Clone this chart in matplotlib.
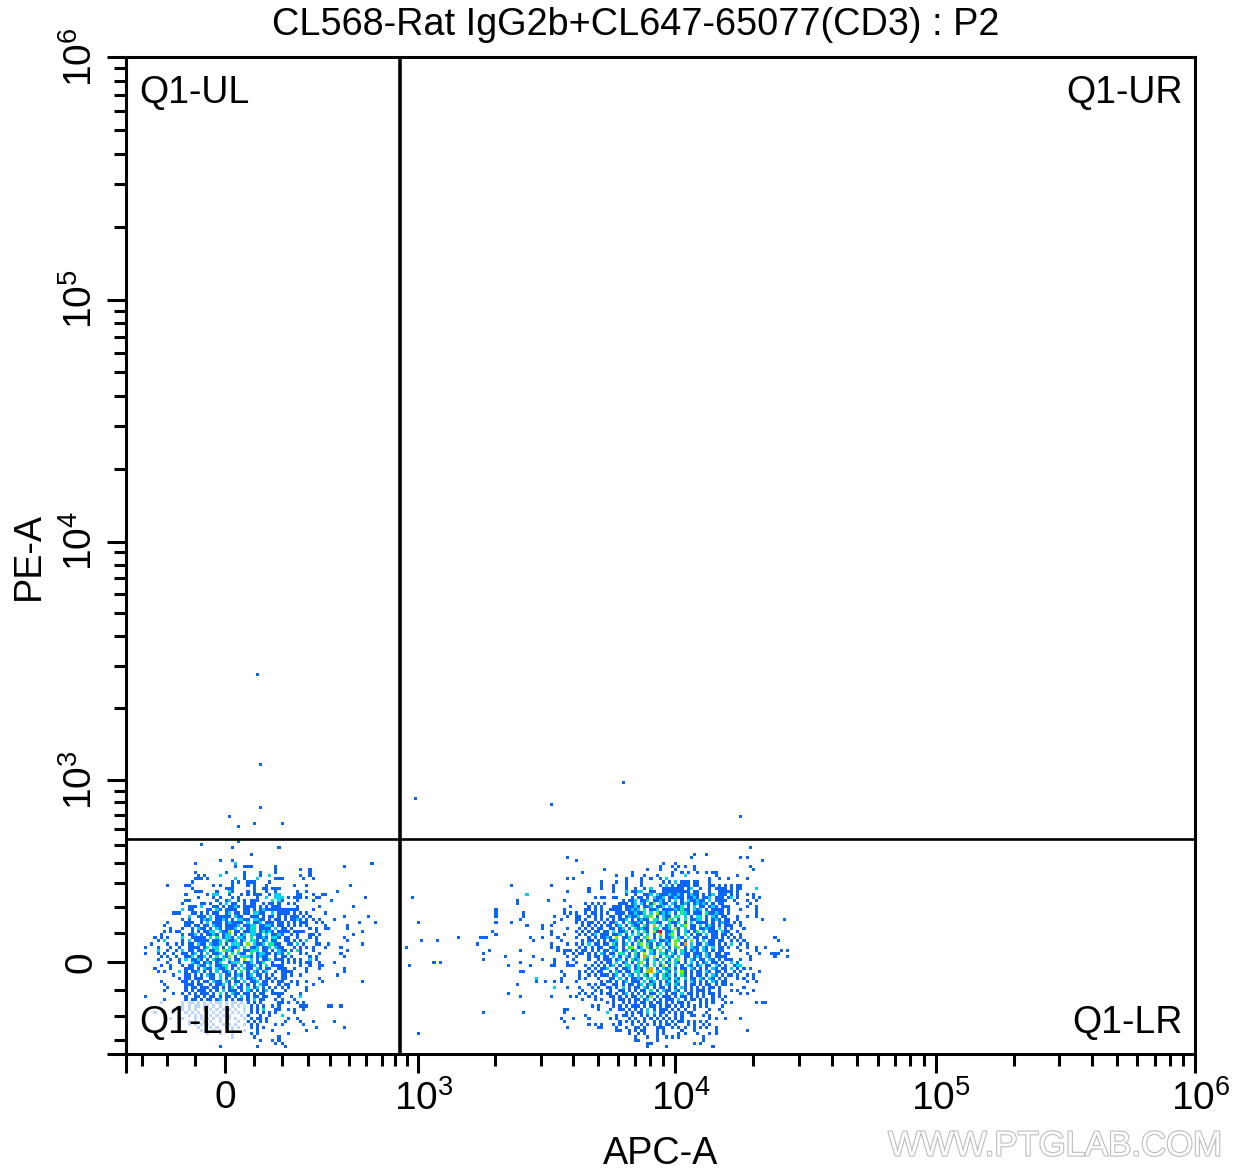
import matplotlib
matplotlib.use("Agg")
import matplotlib.pyplot as plt
import matplotlib.patheffects as pe
from matplotlib.colors import ListedColormap, BoundaryNorm
from matplotlib.transforms import ScaledTranslation
import numpy as np

plt.rcParams['font.family'] = ['Liberation Sans', 'DejaVu Sans']
plt.rcParams['mathtext.fontset'] = 'custom'
plt.rcParams['mathtext.rm'] = 'Liberation Sans'

W, H = 1243, 1171
L, R, T, B = 125.5, 1195.0, 57.0, 1054.0
CELL = 3.1  # one plot channel is about 3.1 px in the picture

title = "CL568-Rat IgG2b+CL647-65077(CD3) : P2"
xlabel = "APC-A"
ylabel = "PE-A"
quad_labels = ["Q1-UL", "Q1-UR", "Q1-LL", "Q1-LR"]

# density, one string per channel row (top to bottom)
# . empty, 1 blue, 2 cyan, 3 teal green, 4 green/yellow, 5 orange, 6 red
# spaces only group the columns in tens
ll_rows = [
    ".......... .......... .......... 1",
    ".......... ........1.",
    ".......... .......... ........1. .......... ...1",
    "",
    ".......... .......... .......... ....1",
    "",
    ".......... .......... ....1...1.",
    ".......... ......1... .........2 .......... .......... .......... .......... ...1",
    ".......... .......... .........1 ..111..... ..1....... .......... ....1",
    ".......... .......... .......... .......... ..1....... 1..1",
    ".......... ......1... ......1... ..1....1.. ..1....... ...1",
    ".......... .......1.1 ....2..... ..1....1.. 2......... 1..1",
    ".......... ......111. 1........2 ..1...2... ..111..... .1..1",
    ".......... .....1.... ........1. 1..111.... 1.........",
    ".......1.. ...11..... ..1.1...1. ...1.1...1 ........1. ..1....... ......1",
    ".......... .....1.... ......111. .....1..11 .111",
    ".......... ......111. ...1...31. ...1.1...1 ..1......1 ..1....... ..1",
    ".......... ...1...... 1.22...1.. .1.1.111.. 1.22.....1 1...1..11.",
    ".......... .......1.. ..1.1...1. 1.....1..2 ..222.1.11 1.1..11... .......... .1",
    ".......... ...11..... ...1..12.. 1.1.111... .3.21....1 ....1..... 1",
    ".......... ..1.....11 .1..1.2.11 ..1.11..1. 11.1..1.1.",
    ".......... ....111.2. ..11.1.112 1.1111.1.1 .111.....1 ......1... .......1",
    ".......... ..2.11.... 11.21.1111 ..11.1.121 1111111111 ....1",
    ".........1 11...11.1. 1.11..12.1 1.11.2211. .2.1111.1. 1.1.....1",
    ".......... ....2..111 .2.11111.2 11..111.1. 11.1.1.111 .1.1...... ....1..... ..1",
    ".......... ..1.1...12 12.1121.1. 2211.2211. 1.11.1.112 1.1.1.1... .1",
    ".......1.. ...111..1. 2.111.1211 11.2.112.1 11.11.1.1. 111..1.1.. .........1 ....1",
    "......1... ...11.11.1 1.211.1111 2.1122.112 21.11.1.1. 1.1.....1. .....1",
    "........1. ..1..1.211 .1.21.1112 .2.132.111 1.2.11.1.. ...1.1..11 .....1....",
    "......1.1. 11...1.1.1 122.2114.1 1.1122.131 21.1111.11 11...1.... .......... 1",
    ".....1.... ..1.112.1. 1121.122.1 .13.2211.2 .1121..1.1 ...11.1... .......1",
    "...1.1.1.. ..2..11111 .2.3.1221. 221.3.1121 .221.11..1 ...1.1.... ....1",
    "....1.2... ..1.2.1111 1.112.3112 .12.231.12 .11..11.1. 1.2..1.... .....1",
    "..1....1.. 1.1.11.211 .2113.1.22 31.4.2112. 3311..11.2 .1...11..1 ..........1",
    "1...1...1. .1..1111.1 3.22.1.211 2.3.112.11 2.211...1. 1.1.1...1. ...1",
    "....2..1.. 1.2.11.112 .113.4221. 4.11232.11 .1.211.1.3 1...1..... .....1",
    "1...1.1..1 ..11.12.1. 2.112.1.3. 211.3.1221 1.121.3... 1.1...1... ...1",
    ".....1.1.. 1..113.112 .1.3.214.1 .3221.1211 ..1.11.1.. ...1.1.... ....1",
    "....1...1. .1.2.1121. 1.2113.2.1 1.4.2.1.11 3.111.1.1. 1..2.1.... ...",
    ".......1.. .1...211.1 21.13..122 3.112.113. .1..1.1.1. 1.11..1... .1",
    ".....1..1. ..1.11.211 .2.1123.11 .2.112.1.2 .1111..... 1..1..11.. ..",
    "...1....1. ...111.1.2 11.2113.1. 2.311.21.1 1..111..1. ..1...1... ....1",
    "....1.1... .2.1.112.1 .1.2.112.1 .3.1.21.12 ..1.1111.. ..1....... ....1",
    ".........1 ...11.1.1. 211.2.11.1 21.12.11.1 .1..11.1.. 1......... ..1",
    ".......... .1.11.111. .11.2.1.31 .2.112.1.1 1.1.11.... ......1...",
    ".....1.... ..11.1.1.1 1.211.21.1 1.2.112.11 .1.11..1.1 ..1....1.. ..........1",
    "......1... ...111.11. .1.112.1.2 .1.1.1.211 ...1.11..1 ....1.....",
    ".......1.. ...1.11.11 1.11.1.12. 11.2.12.1. 1.1.1.1... ..1.......",
    "......1... ...1.1.111 .1.1.2.111 .1.21.1.12 .1...1.... ..1",
    ".........1 ..1.1.1.11 1.1.3.1.21 1.11.1.11. .1111..... 1",
    "1......... ...1..11.1 .11.1.11.1 .2.1.11.11 ...1...1.. 2",
    "......1... ...1.11.1. 11.12.1.1. 11.1.2.11. ..1.1...1.",
    ".....1.... ..1.11.1.1 .1.11.1.11 .1.1.1.1.. ...11.1..1 .1",
    ".......... ..1.1.11.1 1.1.1.1.1. 1.2.1.1.1. .1.1...... 111......1 1..1",
    ".........1 ..1.1.1..1 .1.1.1.1.1 ..1.1.1.2. ..11..1.1. .1",
    "...1.....1 ...1.1.1.. 1.1.1.1.1. 1.2.1.1.1. 1.1.....1.",
    "......1... .1..1.1.1. .1.1.1.1.. .1.1...1.. 1...2.....",
    "........1. ..1...1.1. 1.1.1..1.1 ..1.1.11.1 ......1..1 ...",
    ".......... ....1.1..1 .1..1.1... 1..1.1.1.1 .....1.... 1...1..... .1",
    ".......... .1..1.1.1. 1.1..1.1.1 ..1.1.1... ..1.1..... .1",
    ".......... .......1.. .1.1..1.1. 1...1.1.1. .......... .....1.... ....1..",
    ".......... ........1. ..1.1...1. ..1...1... .1........ ..1",
    ".......... .......... 1...1...1. ....1.1... ......1...",
    ".......... .......... ........1. .....1.... ...1",
    ".......... .......... .......... .......1.. .1.1......",
    ".......... .......... .......... .......... ..1.1",
    ".......... .......... ....1..... ......1... .....1",
]

lr_rows = [
    ".......... .......... .......... .......... .......... .......... .......... .......... ......1",
    "",
    ".......... .......... .......... .......... .......... .......... ........1. ..1",
    ".......... .......... .......1.. .......... .......... .......... .......1.. .......... ...1.1",
    ".......... .......... .......... 1......... .......... .......... .......... .......... .......... 1",
    ".......... .......... .......... .......... .......... ........1. ..1",
    ".......... .......... .......... .......... .......... .......1.. .1.1.1..1. .......... ......1",
    ".......... .......... .......... .........1 .......... ...1...1.. ..1.....1. .......... .......1",
    ".......... .......... .......... ..1....... ........1. .......... .1..1.1..1 ..1.11.... ..",
    ".......... .......... .......... .......... ...1....1. ..1...1... .1...2.... .....1.... ..1",
    ".......... .......... .......1.1 .......... ......1... .1..1..1.2 .......... ...1..1..1 .....1",
    ".......... .......... .......... ........1. ...1..1... .1......1. 1.2.111.11 ...1...... ",
    ".........1 .......... ..1....... ........1. ..1...1... .1.....1.2 .1.1111.11 ...11.1.1. 1.11",
    ".......... .......... .......... ....1...1. ..1...1..1 ..1.2...11 11111.12.. 1..1.1111. 1.11....2",
    ".......... .......... .......1.. ....1..... ..1...2.11 22..11..11 1111111.11 ...1..1111 1.1",
    ".......... ....2..... .......... .......... ......1..1 ..112.2111 21121.1211 .1.12.111. 1.1..1.1",
    ".......... .......... .......... ......1.11 ..11....1. 11.1.2112. 11211.1121 .112.111.1 2.1....1.1",
    ".......... .1........ .1....1... .......... .....1.112 .112.1121. 1.3.1.2112 11.2.1111. .1...1..1",
    ".......... .1........ .......... ...1.1.1.1 ....111.12 .21.14.211 .21.121.12 121.1.11.. ..1...1",
    ".......... .......... ........1. ....1.1.1. ..111.1112 1.112.113. 2.113.1.2. 11.121.111 .....1..1.",
    "....1..... .......... ......1... ...11.1.1. .1111.1121 2.3.112.11 1121311.21 2.1.1111.1 ...1....1.",
    "....1..... ...1...... ......1.1. 1..1.11.1. 1..111.112 113.2.4121 2.1.321.11 1.311211.1 ........1.",
    "....1..... ...1...... ...1...1.. 11..1.1.1. .11.1.1211 3.224.1.21 1.33.2.1.3 2.1.21.11. ..1..1..1.",
    ".......... ..1....... .....1.... 11.1..1.1. 1.1.112.1. 1211.32.31 42.1.3.112 2.1.121.11 ..1....... 1......1..",
    "....1....1 .......... ...1...... 1.1.11.1.1 .112.1.311 21.12311.. 2113.1.2.1 111.1.1211 .1.1",
    ".......... ....1....1 ..1....... ..1.1.1.1. 11.12.1.21 1.31.4.2.1 3.1.24.11. 2.131.1.11 1..1",
    ".......... .........1 .......1.. .1.1.1.11. .11.12.1.3 1211.23.11 2.41.2.11. 11211.2.1. 1...1",
    "...1...... .......... ..1....... 1.1.1.11.1 1.2.113.1. 2.31.416.11 3.1.21.13. 2.111.211. .1..",
    "....1..... .......... ..1...1... .1.1.12.11 1.112.1.2. 31.2.1.5.1 24.1.3.1.1 1.2.11.11. 1..1",
    "11........ .....1...1 ....1..... 1...1.1.11 21.4.113.1 1.24.1.2.1 13.21.2.11 .11.11.1.1 .1.1...... ....1",
    ".......... ......1... .....1.... ..1.11.1.1 .112.1.2.1 41.123.112 1.43.1.4.1 .2.11.11.. 1.1.1..... .....1",
    ".......... .......... ..1....1.. 1.1.2.11.1 1.31.12.1. 24.31.12.1 2.4.15.2.1 1.211.1.1. 2..1.1",
    ".......... .......... ..1.1..... .1.1.1.11. .112.1.34. 12.41.3.2. 1.24.1.211 .21.2.11.1 ..1..1..1. .1",
    "..1....... ..1....... ....1.111. 1.11.1.1.1 1.21.12.13 .21.31.4.1 2.1.31.121 .21.1.11.. ...1....1. ......1.1.",
    "1......... .......... ......1..1 .11.1.1.21 .11.32.1.3 1.4.21.231 .21.211.11 1.21.11.11 .....1...1 ...111",
    ".......1.. ......1... .......1.. 1...1.11.1 1.2.1.21.2 1.53.4.1.3 21.2.11.12 1.21.1111. ......1... ....1...1",
    "1......... .........1 ...1.....1 ....1..1.1 11.12.1.31 2.31.21.3. 1.24.1.21. 11.21.1.11 1..1..1...",
    ".......... ..1....... ...1...1.. 1.....1.1. 11.2.12.1. 24.1.3.2.1 3.21.1.2.1 .12.11.1.. 2.1.......",
    "........1. .....1.... ..11...111 ...1.1.1.1 .12.1.32.1 3.21.2.14. 1.2.1.21.1 2.11.21.1. .122......",
    ".......... .......... .......... ....1.1.11 2..1.112.1 31.25.1.21 3.1.11.21. 1.1.21.11. 2.1.1.1",
    ".......... ..11...... .....1.... .1.1.1.11. .1.21.11.2 31.45.21.3 1.2.41.1.1 1.21.11.1. .1.1.....1",
    ".......... .......... ......1... .1..1.1.11 1.12.1.21. 2.31.21.31 2.1.31.1.1 1.1.21.1.1 1.1..1.1..",
    ".......... .......2.. .....1.... .1.1...1.. .11.2.1.11 21.32.1.23 1.21.2.11. 21.21.1.1. ..1.1..1.",
    ".......... .......1.. 1..1.1.... 1.......1. 11.1.12.11 1.2.12.1.1 2.13.1.21. 1.1.21.11. .....1..1.",
    ".......... .1........ .......... ....1.1.11 ..11.1.11. 12.131.1.2 1.21.1.11. 1.11.1.11. 1..",
    ".......... .......... ...2...1.. .1...1.1.. 11.1.2.1.1 1.21.1.11. 1.1.21.1.1 .1.11.1... ....1",
    ".......... .......... .......... ..1...1.1. .1..11.1.1 .11.3.1.21 1.21.1.1.1 11.1..1.. .1.1....1.",
    "........1. .......... .......... .1.1.1..1. 11.1.12.1. 1.1.11.2.1 .11.2.11.1 .1.11.1... ...1.1",
    ".......... ..1....... ..1.....1. 1...1.1... .11.1.1.11 .2.14.1.11 1.1.11.1.1 .1..1.1.1.",
    ".......... .......... .......... ..1...1.1. ..1.11.1.1 1.12.1.1.1 11.2.1.11. 1.1.1..1.. .......",
    ".......... .......... .......... .......... 1.1..1.1.1 .11.1.11.1 .1.11.1.. .1.1.1...1 .1.......1 .11",
    ".......... .......... .......... .....1.1.. ..1.1.1.11 1.1.11.1.1 1.1.1.1.1. 1.1....1..",
    ".......... .......... ......11.. .......1.. .1..11.1.1 .1.2.1.111 .1.1.1..1. ...1..1...",
    "1......... ...1...... ......1... .......... 2.....1.1. 11.2.2.11. 1.1.1.11.. ..1....1..",
    ".......... .......... .......... ...1...... ...1.11.1. .1.1.1.1.1 ..1.1..11. .1.1......",
    ".......... .......... .....1...1 ....1..... .1.1...1.1 ..1.1.1.1. 1.1.1..... ...1.1..1. ...1..",
    ".......... .......... ......1... .......... ....1.1.1. 1.1..1.1.1 .1.11.1.1. 1.1.......",
    ".......... .......... .......... ....1.1.1. ..1.1...1. .1.1.1.1.1 1.1...1.1. .1.1",
    ".......... .......... .......1.. .......11. ...1..1..1 1.1...111. .1.1.1..1. 1.1..1",
    ".......... .......... .......... .......... ...11..1.1 .11...1.1. ....1...1. .....1.... .....1",
    ".......... .......... .......... .......... .......1.. 1.1...1.1. ...1.1...1 ...1.1....",
    ".......... .......... .......... .......... .........1 ...1..1..1 .1.1...... .1",
    ".......... .......... .......... .......... .........1 1.....1... .......... .1",
    ".......... .......... .......... .......... .......... ...11..... ........1. 1",
    ".......... .......... .......... .......... .......... ...1.....1 .......... ....1",
]

# single events outside the two grids, in channels (x right, y up)
stray_x = [42, 43, 33, 43, 36, 41, 50, 93, 137, 160, 198, 92, 94, 95, 100, 107, 99, 101, 114, 113, 94, 90, 91]
stray_y = [122, 93, 76, 79, 73, 74, 74, 82, 80, 87, 76, 50, 42, 36, 36, 37, 29, 29, 37, 35, 6, 34, 28]

# tick marks, in picture pixels
x_decades_px = [418.0, 675.0, 935.5, 1195.0]   # 10^3 .. 10^6
y_decades_px = [780.0, 541.5, 299.5, 57.0]
x_low_major_px = [125.5, 225.0]
x_low_minor_px = [142, 167, 195, 254, 282, 308, 330, 349, 366, 382, 395, 407]
y_low_major_px = [962.0, 1054.0]
y_low_minor_px = [791, 802, 815, 829, 845, 863, 883, 907, 933, 990, 1016, 1040]


def to_x(px):
    return (np.asarray(px, dtype=float) - L) / CELL


def to_y(py):
    return (B - np.asarray(py, dtype=float)) / CELL


def decade_minors(major):
    out = []
    for a, b in zip(major[:-1], major[1:]):
        out += [a + np.log10(m) * (b - a) for m in range(2, 10)]
    return out


nx = int(np.ceil((R - L) / CELL))
ny = int(np.ceil((B - T) / CELL))
counts = np.zeros((ny, nx))


def put_rows(rows, col0, row_top):
    for r, row in enumerate(rows):
        row = row.replace(" ", "")
        for c, ch in enumerate(row):
            if ch != ".":
                counts[row_top - r, col0 + c] = int(ch)


put_rows(ll_rows, 6, 68)
put_rows(lr_rows, 115, 66)
counts[stray_y, stray_x] = 1

fig = plt.figure(figsize=(W / 100, H / 100), dpi=100)
ax = fig.add_axes([L / W, 1 - B / H, (R - L) / W, (B - T) / H])
ax.set_xlim(0, (R - L) / CELL)
ax.set_ylim(0, (B - T) / CELL)

cmap = ListedColormap(["#0a64f5", "#00d2f0", "#00f09a", "#7df000", "#ff9600", "#ff0000"])
norm = BoundaryNorm([0.5, 1.5, 2.5, 3.5, 4.5, 5.5, 6.5], cmap.N)
ax.pcolormesh(np.arange(nx + 1), np.arange(ny + 1), np.ma.masked_equal(counts, 0),
              cmap=cmap, norm=norm, linewidth=0, rasterized=True)

# quadrant gate
ax.axvline(to_x(400), color="black", lw=2.6, zorder=3)
ax.axhline(to_y(839), color="black", lw=1.9, zorder=3)

for s in ax.spines.values():
    s.set_linewidth(2.2)
    s.set_zorder(4)

# ticks
x_major = x_low_major_px + x_decades_px
y_major = y_decades_px + y_low_major_px
ax.set_xticks(to_x(x_major))
ax.set_xticklabels(["", "0", r"$\mathregular{10^{3}}$", r"$\mathregular{10^{4}}$",
                    r"$\mathregular{10^{5}}$", r"$\mathregular{10^{6}}$"], fontsize=28)
ax.set_yticks(to_y(y_major))
ax.set_yticklabels([r"$\mathregular{10^{3}}$", r"$\mathregular{10^{4}}$", r"$\mathregular{10^{5}}$",
                    r"$\mathregular{10^{6}}$", "0", ""], fontsize=28, rotation=90, va="center")
ax.set_xticks(to_x(x_low_minor_px + decade_minors(x_decades_px)), minor=True)
ax.set_yticks(to_y(y_low_minor_px + decade_minors(y_decades_px)), minor=True)
ax.tick_params(which="major", length=13.5, width=2.2, pad=5)
ax.tick_params(which="minor", length=8.5, width=2.2)

# the power labels sit a little right of their ticks in the reference
for lab in ax.get_xticklabels()[2:]:
    lab.set_transform(lab.get_transform() + ScaledTranslation(4 / 72, 0, fig.dpi_scale_trans))

fig.text(636 / W, 1 - 25 / H, title, fontsize=27.3, ha="center", va="center")
fig.text(661 / W, 1 - 1154 / H, xlabel, fontsize=27.2, ha="center", va="center")
fig.text(29 / W, 1 - 556 / H, ylabel, fontsize=27.2, ha="center", va="center", rotation=90)

# quadrant names sit on a half clear white box
box = dict(facecolor="white", alpha=0.75, edgecolor="none", pad=3)
for name, px, py, ha in [(quad_labels[0], 139, 93, "left"), (quad_labels[1], 1183, 93, "right"),
                         (quad_labels[2], 139, 1023, "left"), (quad_labels[3], 1183, 1023, "right")]:
    ax.text(to_x(px), to_y(py), name, fontsize=27, ha=ha, va="center", bbox=box, zorder=5)

fig.text(1055 / W, 1 - 1146 / H, "WWW.PTGLAB.COM", fontsize=25, color="white", ha="center", va="center",
         path_effects=[pe.withStroke(linewidth=1.6, foreground="#bdbdbd")])

fig.savefig("out.png", dpi=100)
